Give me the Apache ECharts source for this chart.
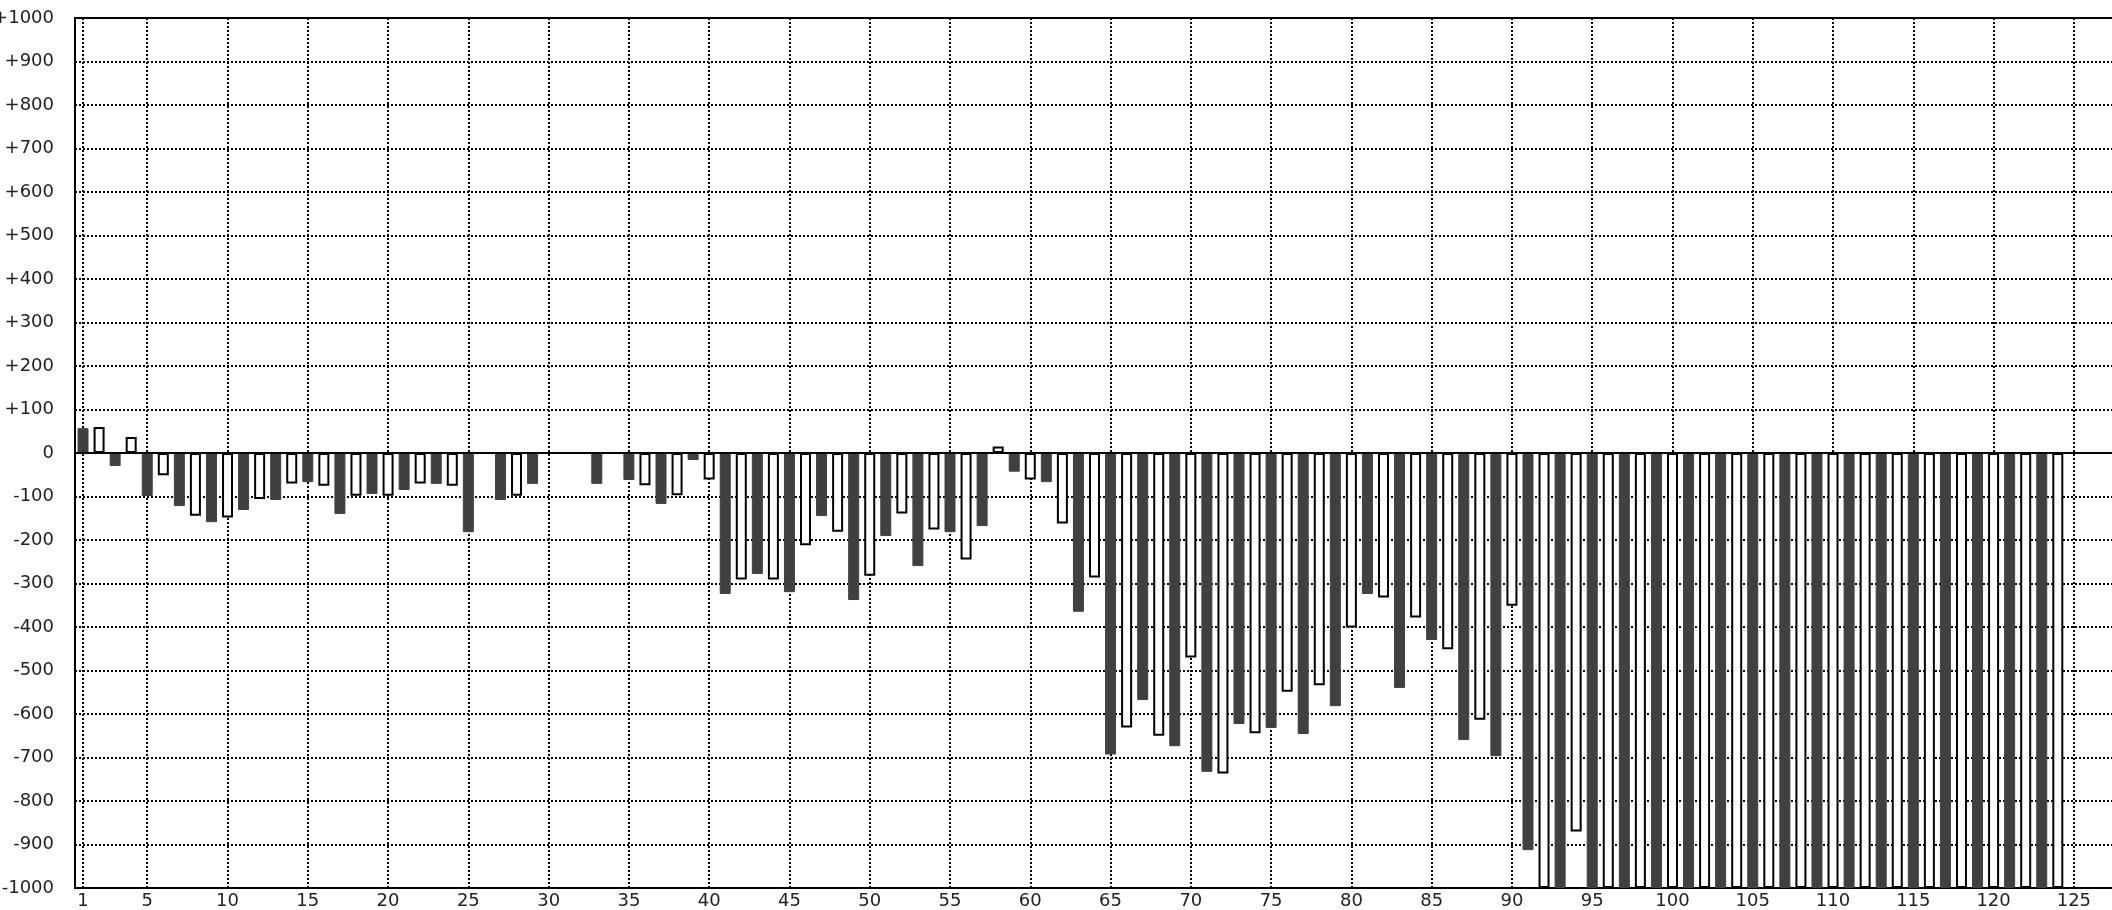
<!DOCTYPE html>
<html>
<head>
<meta charset="utf-8">
<script src="https://cdn.jsdelivr.net/npm/echarts@6/dist/echarts.min.js"></script>
<style>
html,body{margin:0;padding:0;background:#fff;}
#chart{width:2112px;height:910px;}
</style>
</head>
<body>
<div id="chart"></div>
<script>
// Categories 1..127
const categories = [
'1','2','3','4','5','6','7','8','9','10','11','12','13','14','15','16','17','18','19','20',
'21','22','23','24','25','26','27','28','29','30','31','32','33','34','35','36','37','38','39','40',
'41','42','43','44','45','46','47','48','49','50','51','52','53','54','55','56','57','58','59','60',
'61','62','63','64','65','66','67','68','69','70','71','72','73','74','75','76','77','78','79','80',
'81','82','83','84','85','86','87','88','89','90','91','92','93','94','95','96','97','98','99','100',
'101','102','103','104','105','106','107','108','109','110','111','112','113','114','115','116','117','118','119','120',
'121','122','123','124','125','126','127'
];

// Bar values (null = no bar)
const values = [
  57, 60, -30, 37, -99, -51, -122, -144, -159, -148,
  -131, -106, -108, -70, -67, -75, -140, -98, -94, -98,
  -85, -70, -71, -75, -182, null, -108, -98, -71, null,
  null, null, -71, null, -62, -74, -117, -97, -16, -61,
  -324, -291, -278, -291, -320, -212, -145, -181, -338, -282,
  -191, -139, -260, -176, -182, -245, -168, 15, -43, -61,
  -67, -162, -365, -286, -693, -631, -568, -650, -674, -470,
  -733, -737, -623, -644, -632, -549, -646, -534, -582, -401,
  -324, -332, -540, -378, -430, -451, -660, -613, -697, -351,
  -913, -1000, -1000, -870, -1000, -1000, -1000, -1000, -1000, -1000,
  -1000, -1000, -1000, -1000, -1000, -1000, -1000, -1000, -1000, -1000,
  -1000, -1000, -1000, -1000, -1000, -1000, -1000, -1000, -1000, -1000,
  -1000, -1000, -1000, -1000, null, null, null
];

// X tick labels / vertical grid positions
const xTickLabels = ['1','5','10','15','20','25','30','35','40','45','50','55','60','65','70','75','80','85','90','95','100','105','110','115','120','125'];

const darkStyle = {color:'#404040', borderColor:'#404040', borderWidth:1};
const whiteStyle = {color:'#ffffff', borderColor:'#000000', borderWidth:2};

const barData = values.map((v, i) => ({
  value: v,
  itemStyle: (i % 2 === 0) ? darkStyle : whiteStyle
}));

const chart = echarts.init(document.getElementById('chart'), null, {renderer:'canvas'});
const font = {fontFamily:'DejaVu Sans', fontSize:18, color:'#222'};
const dotted = {color:'#000', width:2, type:[2,2]};

chart.setOption({
  animation:false,
  backgroundColor:'#fff',
  grid:{left:75, top:18, right:-2, bottom:22, show:true, borderColor:'#000', borderWidth:2,
        backgroundColor:'transparent', containLabel:false, outerBoundsMode:'none'},
  xAxis:{
    type:'category',
    data:categories,
    boundaryGap:true,
    axisLine:{show:false},
    axisTick:{show:false},
    splitLine:{show:false},
    axisLabel:Object.assign({
      interval:function(idx, val){ return xTickLabels.indexOf(val) >= 0; },
      margin:4,
      hideOverlap:false
    }, font)
  },
  yAxis:{
    type:'value',
    min:-1000, max:1000, interval:100,
    axisLine:{show:false},
    axisTick:{show:false},
    splitLine:{show:true, lineStyle:dotted},
    axisLabel:Object.assign({
      margin:21,
      hideOverlap:false,
      formatter:function(v){ return v > 0 ? '+' + v : String(v); }
    }, font)
  },
  series:[
    {
      type:'bar',
      data:barData,
      barWidth:11,
      z:2,
      silent:true
    },
    {
      type:'line',
      data:[],
      silent:true,
      markLine:{
        z:1,
        silent:true,
        symbol:'none',
        label:{show:false},
        lineStyle:dotted,
        data:xTickLabels.map(c => ({xAxis:c}))
      }
    },
    {
      type:'line',
      data:[],
      silent:true,
      markLine:{
        z:5,
        silent:true,
        symbol:'none',
        label:{show:false},
        lineStyle:{color:'#000', width:2, type:'solid'},
        data:[{yAxis:0}]
      }
    }
  ]
});
</script>
</body>
</html>
